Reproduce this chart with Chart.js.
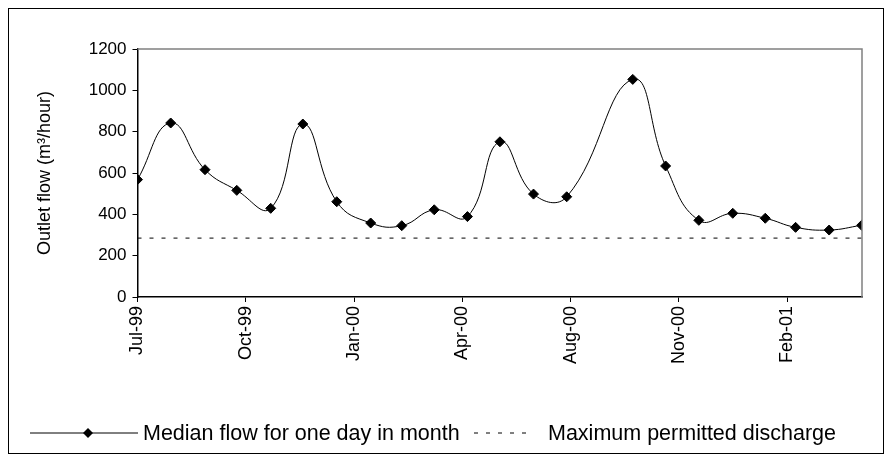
<!DOCTYPE html>
<html>
<head>
<meta charset="utf-8">
<script src="https://cdn.jsdelivr.net/npm/chart.js@4"></script>
<style>
  body { margin: 0; background: #fff; }
  #wrap { position: relative; width: 891px; height: 461px; }
  #frame { position: absolute; left: 8px; top: 8px; width: 874px; height: 444px; border: 1px solid #000; pointer-events: none; }
</style>
</head>
<body>
<div id="wrap">
  <canvas id="flowChart" width="891" height="461"></canvas>
  <div id="frame"></div>
</div>
<script>
// month offsets from Jul-99 (axis ticks every 3 units)
const monthPos = [0, 0.92, 1.87, 2.75, 3.69, 4.58, 5.52, 6.46, 7.32, 8.22, 9.14, 10.04,
  10.97, 11.89, 13.72, 14.63, 15.55, 16.49, 17.39, 18.23, 19.16, 20.06];
const medianFlow = [568, 842, 616, 516, 429, 837, 461, 358, 345, 422, 389, 751,
  498, 485, 1053, 634, 371, 405, 381, 337, 324, 347];
const permittedDischarge = 285;
const tickLabels = ["Jul-99", "Oct-99", "Jan-00", "Apr-00", "Aug-00", "Nov-00", "Feb-01"];
const yTicks = [0, 200, 400, 600, 800, 1000, 1200];

const FONT = "'Liberation Sans', Arial, sans-serif";

const plotBorder = {
  id: "plotBorder",
  afterDraw(chart) {
    const { ctx, chartArea: a } = chart;
    ctx.save();
    ctx.strokeStyle = "#808080";
    ctx.lineWidth = 1.5;
    ctx.beginPath();
    ctx.moveTo(a.left, a.top);
    ctx.lineTo(a.right, a.top);
    ctx.lineTo(a.right, a.bottom);
    ctx.stroke();
    ctx.restore();
  },
};

const customLegend = {
  id: "customLegend",
  afterDraw(chart) {
    const ctx = chart.ctx;
    const y = 433;
    ctx.save();
    ctx.strokeStyle = "#000";
    ctx.lineWidth = 1;
    ctx.beginPath();
    ctx.moveTo(30, y);
    ctx.lineTo(138, y);
    ctx.stroke();
    ctx.fillStyle = "#000";
    ctx.beginPath();
    ctx.moveTo(88, y - 5);
    ctx.lineTo(93, y);
    ctx.lineTo(88, y + 5);
    ctx.lineTo(83, y);
    ctx.closePath();
    ctx.fill();
    ctx.setLineDash([4, 8]);
    ctx.beginPath();
    ctx.moveTo(474, y);
    ctx.lineTo(534, y);
    ctx.stroke();
    ctx.setLineDash([]);
    ctx.font = "21.5px " + FONT;
    ctx.textBaseline = "middle";
    ctx.fillText("Median flow for one day in month", 143, y + 1);
    ctx.fillText("Maximum permitted discharge", 548, y + 1);
    ctx.restore();
  },
};

new Chart(document.getElementById("flowChart"), {
  type: "line",
  data: {
    datasets: [
      {
        label: "Median flow for one day in month",
        data: monthPos.map((x, i) => ({ x, y: medianFlow[i] })),
        borderColor: "#000",
        backgroundColor: "#000",
        borderWidth: 1,
        tension: 0.45,
        pointStyle: "rectRot",
        pointRadius: 5,
        pointBackgroundColor: "#000",
      },
      {
        label: "Maximum permitted discharge",
        data: [{ x: 0, y: permittedDischarge }, { x: 20.07, y: permittedDischarge }],
        borderColor: "#000",
        borderWidth: 1,
        borderDash: [4, 8],
        pointRadius: 0,
      },
    ],
  },
  options: {
    responsive: false,
    animation: false,
    layout: { padding: { top: 49, right: 29, left: 0, bottom: 0 } },
    plugins: { legend: { display: false }, tooltip: { enabled: false } },
    scales: {
      x: {
        type: "linear",
        min: 0,
        max: 20.07,
        afterFit: (s) => { s.height = 164; },
        afterBuildTicks: (s) => { s.ticks = tickLabels.map((_, i) => ({ value: i * 3 })); },
        grid: { drawOnChartArea: false, color: "#000", tickLength: 5, tickColor: "#000" },
        border: { color: "#000", width: 1.5 },
        ticks: {
          color: "#000",
          font: { size: 18, family: FONT },
          maxRotation: 90,
          minRotation: 90,
          padding: 4,
          callback: (v) => tickLabels[Math.round(v / 3)],
        },
      },
      y: {
        min: 0,
        max: 1200,
        afterFit: (s) => { s.width = 137.5; },
        afterBuildTicks: (s) => { s.ticks = yTicks.map((v) => ({ value: v })); },
        grid: { drawOnChartArea: false, color: "#000", tickLength: 5, tickColor: "#000" },
        border: { color: "#000", width: 1.5 },
        ticks: { color: "#000", font: { size: 17, family: FONT }, padding: 6, callback: (v) => String(v) },
        title: {
          display: true,
          text: "Outlet flow (m³/hour)",
          color: "#000",
          font: { size: 18, family: FONT },
          padding: { top: 34, bottom: 0 },
        },
      },
    },
  },
  plugins: [plotBorder, customLegend],
});
</script>
</body>
</html>
